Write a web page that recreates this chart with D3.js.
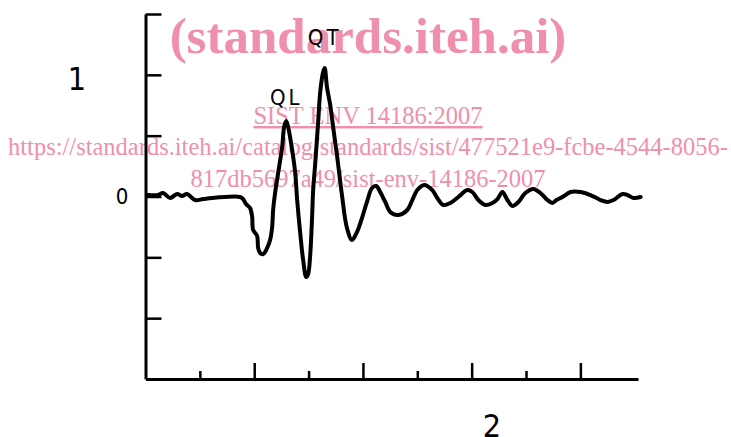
<!DOCTYPE html>
<html>
<head>
<meta charset="utf-8">
<script src="https://cdn.jsdelivr.net/npm/d3@7"></script>
<style>
  body { margin: 0; background: #fff; }
  svg { display: block; }
</style>
</head>
<body>
<script>
// waveform (x in major-tick units, y in signal units)
const waveX = [0.023, 0.115, 0.161, 0.226, 0.290, 0.336, 0.382, 0.456, 0.529, 0.612, 0.732, 0.870,
  0.898, 0.925, 0.962, 0.981, 0.990, 1.027, 1.036, 1.054, 1.082, 1.119, 1.146, 1.165, 1.174, 1.192,
  1.220, 1.257, 1.275, 1.294, 1.312, 1.349, 1.377, 1.395, 1.423, 1.450, 1.478, 1.496, 1.515, 1.533,
  1.542, 1.560, 1.588, 1.607, 1.634, 1.648, 1.669, 1.699, 1.727, 1.761, 1.807, 1.853, 1.899, 1.945,
  1.991, 2.037, 2.083, 2.122, 2.159, 2.205, 2.251, 2.325, 2.408, 2.454, 2.500, 2.564, 2.638, 2.684,
  2.739, 2.804, 2.878, 2.960, 3.006, 3.062, 3.126, 3.191, 3.237, 3.283, 3.329, 3.375, 3.430, 3.494,
  3.568, 3.642, 3.697, 3.743, 3.780, 3.835, 3.909, 4.001, 4.093, 4.185, 4.250, 4.305, 4.388, 4.434,
  4.489, 4.554];
const waveY = [0.012, 0.012, 0.029, -0.012, 0.021, 0.004, 0.021, -0.029, -0.021, -0.012, -0.004, -0.004,
  -0.021, -0.062, -0.095, -0.168, -0.275, -0.325, -0.423, -0.464, -0.473, -0.423, -0.358, -0.251, -0.111, 0.029,
  0.193, 0.407, 0.571, 0.621, 0.571, 0.382, 0.193, -0.029, -0.300, -0.522, -0.662, -0.637, -0.481, -0.152,
  0.053, 0.259, 0.612, 0.859, 1.023, 1.056, 0.900, 0.752, 0.563, 0.341, 0.012, -0.259, -0.358, -0.292,
  -0.177, -0.045, 0.070, 0.086, 0.037, -0.045, -0.127, -0.152, -0.111, -0.029, 0.053, 0.095, 0.053, -0.012,
  -0.070, -0.053, -0.004, 0.053, 0.037, -0.029, -0.070, -0.053, -0.021, 0.037, -0.029, -0.078, -0.045, 0.029,
  0.062, 0.021, -0.029, -0.053, -0.029, -0.004, 0.037, 0.037, 0.012, -0.029, -0.045, -0.029, 0.021, 0.012,
  -0.012, -0.004];

const yMajor = [-1, -0.5, 0, 0.5, 1, 1.5];
const xMajor = [1, 2, 3, 4];
const xMinor = [0.5, 1.5, 2.5, 3.5];
const yLabels = [{v: 1, t: "1"}, {v: 0, t: "0"}];
const peakLabels = [{x: 1.294, y: 0.621, t: "QL"}, {x: 1.648, y: 1.056, t: "QT"}];
const xTitle = "2";

const wmTitle = "(standards.iteh.ai)";
const wmLines = ["SIST ENV 14186:2007",
  "https://standards.iteh.ai/catalog/standards/sist/477521e9-fcbe-4544-8056-",
  "817db5697a49/sist-env-14186-2007"];

const W = 731, H = 437;
const pink = "#ef8fac";
const svg = d3.select("body").append("svg").attr("width", W).attr("height", H);

const x = d3.scaleLinear().domain([0, 4.53]).range([145.5, 638]);
const y = d3.scaleLinear().domain([-1.5, 1.5]).range([379, 14]);

// watermark underneath
svg.append("text")
  .attr("x", 368).attr("y", 53)
  .attr("text-anchor", "middle")
  .style("font-family", "'Liberation Serif', serif")
  .style("font-weight", "bold")
  .style("font-size", "51px")
  .attr("fill", pink)
  .text(wmTitle);

svg.selectAll(".wm")
  .data(wmLines)
  .enter().append("text")
  .attr("class", "wm")
  .attr("x", 368)
  .attr("y", (d, i) => [124, 155, 187][i])
  .attr("text-anchor", "middle")
  .style("font-family", "'Liberation Serif', serif")
  .style("font-size", "24.5px")
  .style("text-decoration", (d, i) => i === 0 ? "underline" : null)
  .attr("fill", pink)
  .text(d => d);

// y axis
svg.append("g")
  .attr("transform", "translate(" + x(0) + ",0)")
  .call(d3.axisRight(y).tickValues(yMajor).tickSize(16).tickSizeOuter(0).tickFormat(""));

// x axis, ticks pointing up
svg.append("g")
  .attr("transform", "translate(0," + y(-1.5) + ")")
  .call(d3.axisTop(x).tickValues(xMajor).tickSize(16).tickSizeOuter(0).tickFormat(""));
svg.append("g")
  .attr("transform", "translate(0," + y(-1.5) + ")")
  .call(d3.axisTop(x).tickValues(xMinor).tickSize(8).tickSizeOuter(0).tickFormat(""))
  .select(".domain").remove();

svg.selectAll(".domain").attr("stroke", "#000").attr("stroke-width", 3);
svg.selectAll(".tick line").attr("stroke", "#000").attr("stroke-width", 2.5);

// axis numbers
const numFont = "'DejaVu Sans Condensed', 'DejaVu Sans', sans-serif";
svg.append("text")
  .attr("x", 77).attr("y", y(yLabels[0].v) + 15)
  .attr("text-anchor", "middle")
  .style("font-family", numFont)
  .style("font-size", "32px")
  .text(yLabels[0].t);
svg.append("text")
  .attr("x", 122).attr("y", y(yLabels[1].v) + 7)
  .attr("text-anchor", "middle")
  .style("font-family", numFont)
  .style("font-size", "22px")
  .text(yLabels[1].t);
svg.append("text")
  .attr("x", 492).attr("y", 437)
  .attr("text-anchor", "middle")
  .style("font-family", numFont)
  .style("font-size", "32px")
  .text(xTitle);

// waveform
const pts = waveX.map((d, i) => [d, waveY[i]]);
const line = d3.line()
  .x(d => x(d[0]))
  .y(d => y(d[1]))
  .curve(d3.curveCatmullRom.alpha(0.5));

svg.append("path")
  .datum(pts)
  .attr("fill", "none")
  .attr("stroke", "#000")
  .attr("stroke-width", 4)
  .attr("stroke-linejoin", "round")
  .attr("stroke-linecap", "round")
  .attr("d", line);

// peak labels
const peakLift = [16, 23];
svg.selectAll(".peak")
  .data(peakLabels)
  .enter().append("text")
  .attr("class", "peak")
  .attr("x", d => x(d.x))
  .attr("y", (d, i) => y(d.y) - peakLift[i])
  .attr("text-anchor", "middle")
  .style("font-family", numFont)
  .style("font-size", "22px")
  .style("letter-spacing", "3px")
  .text(d => d.t);
</script>
</body>
</html>
